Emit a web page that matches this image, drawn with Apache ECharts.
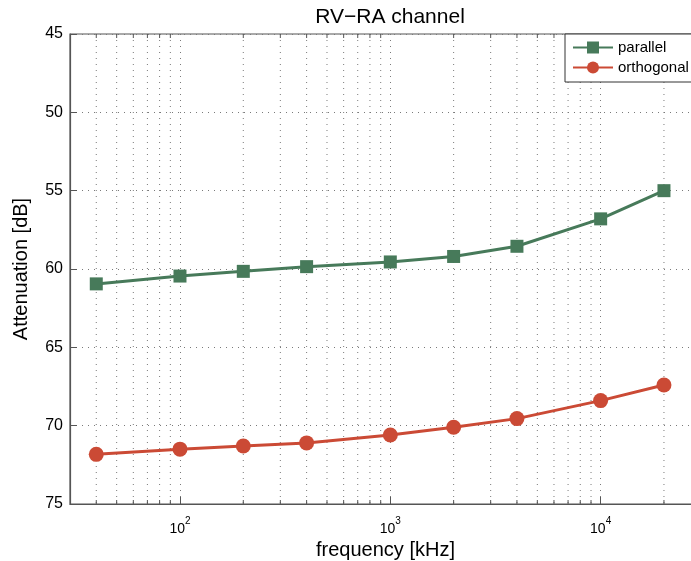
<!DOCTYPE html>
<html><head><meta charset="utf-8">
<script src="https://cdn.jsdelivr.net/npm/echarts@6/dist/echarts.min.js"></script>
<style>html,body{margin:0;padding:0;background:#fff}#c{width:691px;height:561px}</style>
</head><body><div id="c"></div>
<script>
const frequencies = [40, 100, 200, 400, 1000, 2000, 4000, 10000, 20000];
const parallel = [60.95, 60.45, 60.15, 59.85, 59.55, 59.2, 58.55, 56.8, 55.0];
const orthogonal = [71.83, 71.5, 71.3, 71.1, 70.6, 70.1, 69.55, 68.4, 67.4];
const minorTicks = [40, 50, 60, 70, 80, 90, 200, 300, 400, 500, 600, 700, 800, 900,
  2000, 3000, 4000, 5000, 6000, 7000, 8000, 9000, 20000];
const xRange = [30, 30000];
const yRange = [45, 75];
const yTickStep = 5;

const font = '"Liberation Sans", Arial, sans-serif';
const chart = echarts.init(document.getElementById('c'));
const dots = { color: '#7a7a7a', width: 1, type: [1, 5] };

chart.setOption({
  animation: false,
  backgroundColor: '#fff',
  title: {
    text: 'RV\u2212RA channel', left: 385, top: 2, textAlign: 'center',
    textStyle: { fontFamily: font, fontSize: 21, fontWeight: 'normal', color: '#000' }
  },
  grid: { left: 70, top: 34, width: 631, height: 470, outerBoundsMode: 'none', containLabel: false,
    show: true, borderColor: '#555', borderWidth: 1.2, backgroundColor: 'transparent' },
  legend: {
    left: 565, top: 34, orient: 'vertical', itemGap: 5, itemWidth: 40, itemHeight: 15,
    padding: [6, 20, 7, 7],
    backgroundColor: '#fff', borderColor: '#333', borderWidth: 1, borderRadius: 0,
    textStyle: { fontFamily: font, fontSize: 15, color: '#000' },
    data: ['parallel', 'orthogonal']
  },
  xAxis: {
    type: 'log', logBase: 10, min: xRange[0], max: xRange[1],
    name: 'frequency [kHz]', nameLocation: 'middle', nameGap: 33,
    nameTextStyle: { fontFamily: font, fontSize: 20, color: '#000' },
    axisLine: { show: true, onZero: false, lineStyle: { color: '#555', width: 1.2 } },
    axisTick: { show: true, inside: true, length: 7, lineStyle: { color: '#555' } },
    splitLine: { show: true, lineStyle: dots },
    axisLabel: {
      showMinLabel: false, showMaxLabel: false, margin: 12,
      formatter: v => {
        const e = Math.log10(v);
        if (Math.abs(e - Math.round(e)) > 1e-6) return '';
        return '{b|10}{s|' + Math.round(e) + '}';
      },
      rich: {
        b: { fontFamily: font, fontSize: 14, color: '#000', verticalAlign: 'bottom', lineHeight: 20 },
        s: { fontFamily: font, fontSize: 10, color: '#000', verticalAlign: 'top', lineHeight: 20, padding: [0, 0, 10, 0] }
      }
    }
  },
  yAxis: {
    type: 'value', inverse: true, min: yRange[0], max: yRange[1], interval: yTickStep,
    name: 'Attenuation [dB]', nameLocation: 'middle', nameGap: 39,
    nameTextStyle: { fontFamily: font, fontSize: 20, color: '#000' },
    axisLine: { show: true, lineStyle: { color: '#555', width: 1.2 } },
    axisTick: { show: true, inside: true, length: 7, lineStyle: { color: '#555' } },
    splitLine: { show: true, lineStyle: dots },
    axisLabel: { fontFamily: font, fontSize: 16, color: '#000', margin: 7 }
  },
  series: [
    {
      type: 'custom', silent: true, z: 1,
      data: minorTicks.map(v => [v]),
      renderItem: (params, api) => {
        const top = api.coord([api.value(0), yRange[0]]);
        const bot = api.coord([api.value(0), yRange[1]]);
        return {
          type: 'group', children: [
            { type: 'line', shape: { x1: top[0], y1: top[1], x2: bot[0], y2: bot[1] }, style: { stroke: '#7a7a7a', lineWidth: 1, lineDash: [1, 5] } },
            { type: 'line', shape: { x1: bot[0], y1: bot[1], x2: bot[0], y2: bot[1] - 4 }, style: { stroke: '#555', lineWidth: 1 } },
            { type: 'line', shape: { x1: top[0], y1: top[1], x2: top[0], y2: top[1] + 4 }, style: { stroke: '#555', lineWidth: 1 } }
          ]
        };
      }
    },
    {
      name: 'parallel', type: 'line', z: 3,
      data: frequencies.map((f, i) => [f, parallel[i]]),
      symbol: 'rect', symbolSize: 13,
      itemStyle: { color: '#477a5a' },
      lineStyle: { color: '#477a5a', width: 3 }
    },
    {
      name: 'orthogonal', type: 'line', z: 3,
      data: frequencies.map((f, i) => [f, orthogonal[i]]),
      symbol: 'circle', symbolSize: 15,
      itemStyle: { color: '#cb4a35' },
      lineStyle: { color: '#cb4a35', width: 3 }
    }
  ]
});
</script></body></html>
